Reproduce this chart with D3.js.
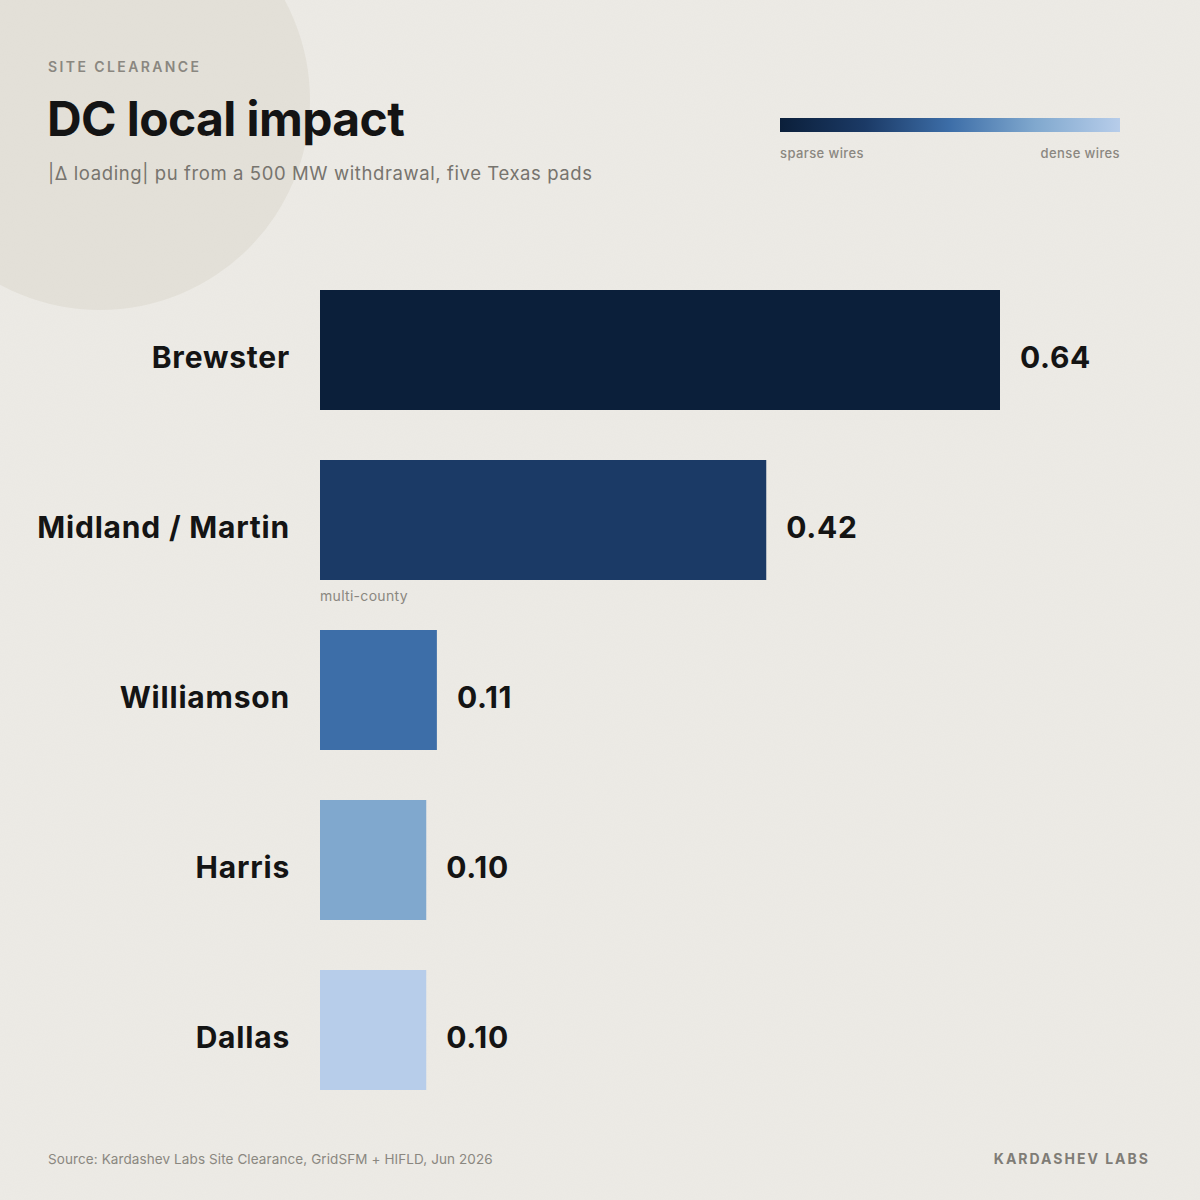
<!DOCTYPE html>
<html>
<head>
<meta charset="utf-8">
<script src="https://cdn.jsdelivr.net/npm/d3@7"></script>
<style>
  html, body { margin: 0; padding: 0; background: #edebe6; }
  svg { display: block; font-family: Inter, "Noto Sans", sans-serif; }
</style>
</head>
<body>
<svg id="chart" width="1200" height="1200"></svg>
<script>
// data
var sites = ['Brewster', 'Midland / Martin', 'Williamson', 'Harris', 'Dallas'];
var impact = [0.64, 0.42, 0.11, 0.10, 0.10];
var valueLabels = ['0.64', '0.42', '0.11', '0.10', '0.10'];
var notes = ['', 'multi-county', '', '', ''];
var barColors = ['#0b1f3a', '#1b3a66', '#3d6ea8', '#80a8ce', '#b7cdea'];

var svg = d3.select('#chart');

// paper grain
var defs = svg.append('defs');
var grain = defs.append('filter').attr('id', 'grain')
  .attr('x', 0).attr('y', 0).attr('width', '100%').attr('height', '100%');
grain.append('feTurbulence').attr('type', 'fractalNoise')
  .attr('baseFrequency', 0.9).attr('numOctaves', 2).attr('seed', 3);
grain.append('feColorMatrix').attr('type', 'matrix')
  .attr('values', '0 0 0 0 0.45  0 0 0 0 0.43  0 0 0 0 0.38  0 0 0 0.05 0');

var grad = defs.append('linearGradient').attr('id', 'ramp');
barColors.forEach(function(c, i){
  grad.append('stop').attr('offset', (i / (barColors.length - 1) * 100) + '%').attr('stop-color', c);
});

svg.append('rect').attr('width', 1200).attr('height', 1200).attr('fill', '#edebe6');
svg.append('circle').attr('cx', 100).attr('cy', 100).attr('r', 210).attr('fill', '#e4e1d9');
svg.append('rect').attr('width', 1200).attr('height', 1200).attr('filter', 'url(#grain)');

// header
svg.append('text').attr('x', 48).attr('y', 72)
  .attr('font-size', 14).attr('font-weight', 600).attr('letter-spacing', 2.4)
  .attr('fill', '#8a8780').text('SITE CLEARANCE');
svg.append('text').attr('x', 47).attr('y', 136)
  .attr('font-size', 48).attr('font-weight', 700).attr('letter-spacing', -0.6)
  .attr('fill', '#141414').text('DC local impact');
svg.append('text').attr('x', 48).attr('y', 180)
  .attr('font-size', 18.5).attr('font-weight', 400).attr('letter-spacing', 0.6)
  .attr('fill', '#77746e').text('|\u0394 loading| pu from a 500 MW withdrawal, five Texas pads');

// legend ramp
svg.append('rect').attr('x', 780).attr('y', 118).attr('width', 340).attr('height', 14)
  .attr('fill', 'url(#ramp)');
svg.append('text').attr('x', 780).attr('y', 158).attr('font-size', 13).attr('font-weight', 500)
  .attr('letter-spacing', 0.4).attr('fill', '#8a8780').text('sparse wires');
svg.append('text').attr('x', 1120).attr('y', 158).attr('font-size', 13).attr('font-weight', 500)
  .attr('letter-spacing', 0.4).attr('text-anchor', 'end').attr('fill', '#8a8780').text('dense wires');

// scales
var x = d3.scaleLinear().domain([0, 0.64]).range([320, 1000]);
var y = d3.scaleBand().domain(sites).range([290, 1090]).paddingInner(50 / 170).paddingOuter(0);

var rows = svg.append('g').selectAll('g')
  .data(sites)
  .enter()
  .append('g');

rows.append('rect')
  .attr('x', x(0))
  .attr('y', function(d){ return y(d); })
  .attr('width', function(d, i){ return x(impact[i]) - x(0); })
  .attr('height', y.bandwidth())
  .attr('fill', function(d, i){ return barColors[i]; });

rows.append('text')
  .attr('x', 290)
  .attr('y', function(d){ return y(d) + y.bandwidth() / 2 + 18; })
  .attr('text-anchor', 'end')
  .attr('font-size', 30).attr('font-weight', 700).attr('letter-spacing', 0.8)
  .attr('fill', '#141414')
  .text(function(d){ return d; });

rows.append('text')
  .attr('x', function(d, i){ return x(impact[i]) + 20; })
  .attr('y', function(d){ return y(d) + y.bandwidth() / 2 + 18; })
  .attr('font-size', 30).attr('font-weight', 700).attr('letter-spacing', 0.7)
  .attr('fill', '#141414')
  .text(function(d, i){ return valueLabels[i]; });

rows.append('text')
  .attr('x', x(0))
  .attr('y', function(d){ return y(d) + y.bandwidth() + 21; })
  .attr('font-size', 14).attr('font-weight', 400).attr('letter-spacing', 0.3)
  .attr('fill', '#8a8780')
  .text(function(d, i){ return notes[i]; });

// footer
svg.append('text').attr('x', 48).attr('y', 1164).attr('font-size', 13.5).attr('font-weight', 400)
  .attr('letter-spacing', 0.1).attr('fill', '#8a8780')
  .text('Source: Kardashev Labs Site Clearance, GridSFM + HIFLD, Jun 2026');
svg.append('text').attr('x', 1150).attr('y', 1164).attr('text-anchor', 'end')
  .attr('font-size', 14).attr('font-weight', 700).attr('letter-spacing', 2)
  .attr('fill', '#7f7c76').text('KARDASHEV LABS');
</script>
</body>
</html>
